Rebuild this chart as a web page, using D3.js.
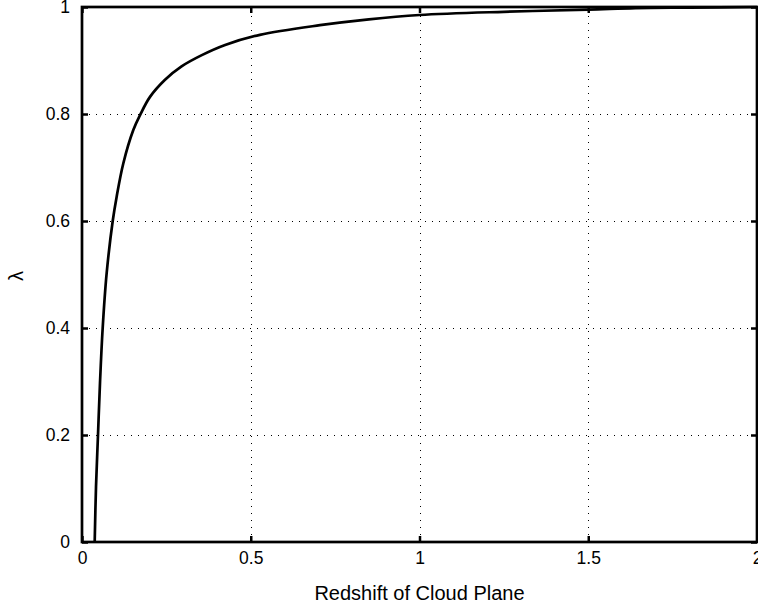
<!DOCTYPE html>
<html>
<head>
<meta charset="utf-8">
<script src="https://cdn.jsdelivr.net/npm/d3@7"></script>
<style>
  body { margin: 0; background: #fff; }
  text { font-family: "Liberation Sans", Arial, Helvetica, sans-serif; }
</style>
</head>
<body>
<div id="chart"></div>
<script>
// Curve: redshift of cloud plane vs lambda
var redshift = [0.0376, 0.0415, 0.0474, 0.0533, 0.0613, 0.073, 0.091, 0.1027, 0.1225,
                0.152, 0.172, 0.2015, 0.246, 0.295, 0.355, 0.424, 0.527, 0.705, 0.85,
                1.0, 1.25, 1.5, 1.64, 1.8, 2.0];
var lambda   = [0, 0.103, 0.2, 0.297, 0.4, 0.502, 0.6, 0.6455, 0.708,
                0.77, 0.798, 0.832, 0.864, 0.889, 0.91, 0.929, 0.948, 0.966, 0.977,
                0.985, 0.991, 0.995, 0.998, 0.999, 1.0];

var xTicks = [0, 0.5, 1, 1.5, 2];
var yTicks = [0, 0.2, 0.4, 0.6, 0.8, 1];

var width = 758,
    height = 611;

var plotLeft = 82, plotRight = 757, plotTop = 7, plotBottom = 542;

var svg = d3.select("#chart")
    .append("svg")
    .attr("width", width)
    .attr("height", height);

var x = d3.scaleLinear().domain([0, 2]).range([plotLeft, plotRight]);
var y = d3.scaleLinear().domain([0, 1]).range([plotBottom, plotTop]);

// Dotted grid
var grid = svg.append("g")
    .attr("stroke", "#000")
    .attr("stroke-width", 1)
    .attr("stroke-dasharray", "1,6");

grid.selectAll("line.vx")
    .data(xTicks.slice(1, -1))
    .enter().append("line")
    .attr("x1", function(d) { return Math.round(x(d)) + 0.5 })
    .attr("x2", function(d) { return Math.round(x(d)) + 0.5 })
    .attr("y1", plotBottom)
    .attr("y2", plotTop);

grid.selectAll("line.hy")
    .data(yTicks.slice(1, -1))
    .enter().append("line")
    .attr("x1", plotLeft)
    .attr("x2", plotRight)
    .attr("y1", function(d) { return Math.round(y(d)) + 0.5 })
    .attr("y2", function(d) { return Math.round(y(d)) + 0.5 });

// The curve
var points = redshift.map(function(z, i) { return [z, lambda[i]] });

svg.append("path")
    .datum(points)
    .attr("fill", "none")
    .attr("stroke", "#000")
    .attr("stroke-width", 2.7)
    .attr("d", d3.line()
        .x(function(d) { return x(d[0]) })
        .y(function(d) { return y(d[1]) })
        .curve(d3.curveCatmullRom.alpha(0.5)));

// Axes with inward ticks
var xAxisB = d3.axisBottom(x).tickValues(xTicks).tickSize(-6).tickPadding(10)
    .tickFormat(d3.format("~g"));
var xAxisT = d3.axisTop(x).tickValues(xTicks).tickSize(-6).tickFormat("");
var yAxisL = d3.axisLeft(y).tickValues(yTicks).tickSize(-6).tickPadding(12)
    .tickFormat(d3.format("~g"));
var yAxisR = d3.axisRight(y).tickValues(yTicks).tickSize(-6).tickFormat("");

function styleAxis(g) {
    g.select(".domain").remove();
    g.selectAll(".tick line").attr("stroke", "#000").attr("stroke-width", 2.5);
    g.selectAll(".tick text")
        .attr("fill", "#000")
        .style("font-size", "17.5px")
        .style("font-family", "'Liberation Sans', Arial, sans-serif");
}

svg.append("g").attr("transform", "translate(0," + plotBottom + ")").call(xAxisB).call(styleAxis);
svg.append("g").attr("transform", "translate(0," + plotTop + ")").call(xAxisT).call(styleAxis);
svg.append("g").attr("transform", "translate(" + plotLeft + ",0)").call(yAxisL).call(styleAxis);
svg.append("g").attr("transform", "translate(" + plotRight + ",0)").call(yAxisR).call(styleAxis);

// Frame
svg.append("rect")
    .attr("x", plotLeft)
    .attr("y", plotTop)
    .attr("width", plotRight - plotLeft)
    .attr("height", plotBottom - plotTop)
    .attr("fill", "none")
    .attr("stroke", "#000")
    .attr("stroke-width", 2.7);

// Axis titles
svg.append("text")
    .attr("x", (plotLeft + plotRight) / 2)
    .attr("y", 600)
    .attr("text-anchor", "middle")
    .style("font-size", "20px")
    .attr("fill", "#000")
    .text("Redshift of Cloud Plane");

svg.append("text")
    .attr("transform", "translate(23,276) rotate(-90)")
    .attr("text-anchor", "middle")
    .style("font-size", "20px")
    .attr("fill", "#000")
    .text("λ");
</script>
</body>
</html>
